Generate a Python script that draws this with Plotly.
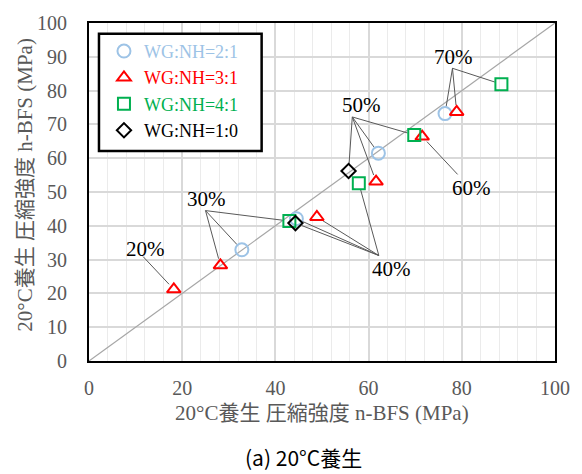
import math
import plotly.graph_objects as go

# Figure and plotting-area geometry (px)
W, H = 582, 474
MARGIN = dict(l=89, r=26, t=18, b=113)
PW = W - MARGIN["l"] - MARGIN["r"]
PH = H - MARGIN["t"] - MARGIN["b"]
AX_MIN, AX_MAX = 0, 100

# Compressive strength (MPa): n-BFS (x) vs h-BFS (y), by WG:NH ratio
ratio_21 = ["30%", "40%", "50%", "70%"]
n_21 = [32.8, 44.5, 62.1, 76.4]
h_21 = [32.9, 42.1, 61.5, 73.2]

ratio_31 = ["20%", "30%", "40%", "50%", "60%", "70%"]
n_31 = [18.2, 28.2, 48.9, 61.6, 71.5, 78.9]
h_31 = [21.2, 28.3, 42.6, 53.1, 66.4, 73.7]

ratio_41 = ["30%", "40%", "50%", "70%"]
n_41 = [43.0, 57.9, 69.8, 88.5]
h_41 = [41.4, 52.6, 66.9, 81.9]

ratio_10 = ["40%", "50%"]
n_10 = [44.3, 55.7]
h_10 = [40.8, 56.2]

x_ticks = [0, 20, 40, 60, 80, 100]
y_ticks = [0, 10, 20, 30, 40, 50, 60, 70, 80, 90, 100]

# Callout placement: label -> (text x, text y, leader origin x, leader origin y)
callouts = {
    "20%": (12.1, 33.2, 11.6, 30.9),
    "30%": (25.3, 48.0, 25.0, 44.5),
    "40%": (64.9, 27.1, 62.2, 31.2),
    "50%": (58.5, 75.6, 56.5, 72.2),
    "60%": (82.0, 51.3, 79.1, 55.2),
    "70%": (78.3, 89.8, 78.0, 86.6),
}

series = [
    dict(name="WG:NH=2:1", x=n_21, y=h_21, lab=ratio_21, color="#9DC3E6",
         symbol="circle-open", size=13),
    dict(name="WG:NH=3:1", x=n_31, y=h_31, lab=ratio_31, color="#FF0000",
         symbol="triangle-up-open", size=12),
    dict(name="WG:NH=4:1", x=n_41, y=h_41, lab=ratio_41, color="#00B050",
         symbol="square-open", size=12),
    dict(name="WG:NH=1:0", x=n_10, y=h_10, lab=ratio_10, color="#000000",
         symbol="diamond-open", size=11),
]

SERIF = "Liberation Serif, Times New Roman, Noto Sans CJK JP, serif"
GRAY_TEXT = "#595959"

sx = PW / (AX_MAX - AX_MIN)
sy = PH / (AX_MAX - AX_MIN)


def px_x(p):
    return (p - MARGIN["l"]) / PW


def px_y(p):
    return (MARGIN["t"] + PH - p) / PH


fig = go.Figure()

# 1:1 reference line
fig.add_trace(go.Scatter(x=[AX_MIN, AX_MAX], y=[AX_MIN, AX_MAX], mode="lines",
                         line=dict(color="#A6A6A6", width=1.2),
                         showlegend=False, hoverinfo="skip"))

# Leader lines from each callout to its markers, stopping at the marker edge
lx, ly = [], []
gap = 7.0
for s in series:
    for xv, yv, lab in zip(s["x"], s["y"], s["lab"]):
        _, _, ax0, ay0 = callouts[lab]
        dxp = (xv - ax0) * sx
        dyp = (yv - ay0) * sy
        d = math.hypot(dxp, dyp)
        f = max(d - gap, 0) / d if d else 0
        lx += [ax0, ax0 + (xv - ax0) * f, None]
        ly += [ay0, ay0 + (yv - ay0) * f, None]
fig.add_trace(go.Scatter(x=lx, y=ly, mode="lines",
                         line=dict(color="#595959", width=1),
                         showlegend=False, hoverinfo="skip"))

for s in series:
    fig.add_trace(go.Scatter(
        x=s["x"], y=s["y"], mode="markers",
        name=f'<span style="color:{s["color"]}">{s["name"]}</span>',
        marker=dict(symbol=s["symbol"], size=s["size"], color=s["color"],
                    line=dict(width=2, color=s["color"])),
    ))

for lab, (tx, ty, _, _) in callouts.items():
    fig.add_annotation(x=tx, y=ty, xref="x", yref="y", text=lab, showarrow=False,
                       font=dict(family=SERIF, size=21, color="#000000"),
                       xanchor="center", yanchor="middle")

# Axis titles and caption
fig.add_annotation(x=0.5, y=px_y(414), xref="paper", yref="paper", showarrow=False,
                   text="20°C養生 圧縮強度 n-BFS (MPa)",
                   font=dict(family=SERIF, size=21, color=GRAY_TEXT),
                   xanchor="center", yanchor="middle")
fig.add_annotation(x=px_x(24), y=px_y(182), xref="paper", yref="paper",
                   showarrow=False, textangle=-90,
                   text="20°C養生 圧縮強度 h-BFS (MPa)",
                   font=dict(family=SERIF, size=21, color=GRAY_TEXT),
                   xanchor="center", yanchor="middle")
fig.add_annotation(x=px_x(304), y=px_y(458), xref="paper", yref="paper",
                   showarrow=False, text="(a) 20°C養生",
                   font=dict(family="Noto Sans CJK JP, sans-serif", size=21,
                             color="#000000"),
                   xanchor="center", yanchor="middle")

# Legend frame
fig.add_shape(type="rect", xref="paper", yref="paper",
              x0=px_x(99), x1=px_x(262), y0=px_y(148), y1=px_y(29),
              line=dict(color="#000000", width=2.5), fillcolor="#FFFFFF",
              layer="above")

fig.update_layout(
    width=W, height=H, margin=MARGIN,
    paper_bgcolor="#FFFFFF", plot_bgcolor="#FFFFFF",
    legend=dict(x=px_x(104), y=px_y(28), xanchor="left", yanchor="top",
                bgcolor="rgba(0,0,0,0)", borderwidth=0,
                font=dict(family=SERIF, size=18)),
    xaxis=dict(range=[AX_MIN, AX_MAX], tickvals=x_ticks, showgrid=True,
               gridcolor="#D9D9D9", gridwidth=1.5, zeroline=False,
               minor=dict(dtick=4, showgrid=True, gridcolor="#EBEBEB", gridwidth=1),
               showline=True, mirror=True, linecolor="#000000", linewidth=2,
               ticks="", ticklabelstandoff=8,
               tickfont=dict(family=SERIF, size=20, color=GRAY_TEXT)),
    yaxis=dict(range=[AX_MIN, AX_MAX], tickvals=y_ticks, showgrid=True,
               gridcolor="#D9D9D9", gridwidth=1.5, zeroline=False,
               showline=True, mirror=True, linecolor="#000000", linewidth=2,
               ticks="", ticklabelstandoff=16,
               tickfont=dict(family=SERIF, size=20, color=GRAY_TEXT)),
)

fig.write_html("out.html")
